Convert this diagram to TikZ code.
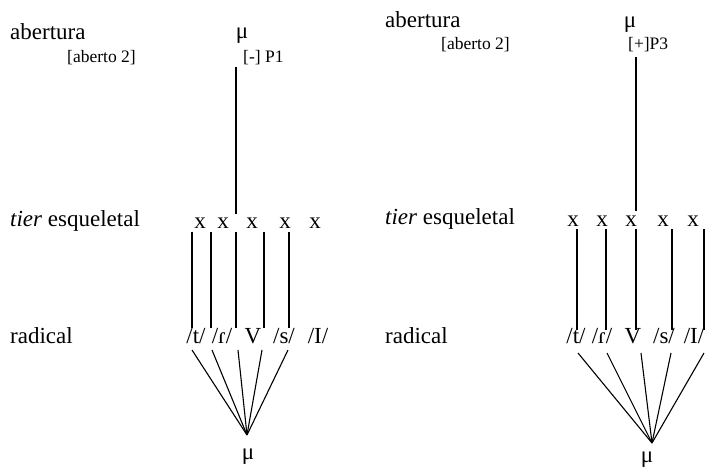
\documentclass[tikz,border=0pt]{standalone}
\usepackage{fontspec}
\setmainfont{Liberation Serif}
\usetikzlibrary{positioning}

\begin{document}
\begin{tikzpicture}[
  x=1pt, y=-1pt,
  lbl/.style={anchor=base west, inner sep=0pt, font=\fontsize{23}{27}\selectfont},
  feat/.style={anchor=base west, inner sep=0pt, font=\fontsize{17.5}{21}\selectfont},
  seg/.style={anchor=base, inner sep=0pt, font=\fontsize{23}{27}\selectfont},
  ln/.style={line width=1.1pt}
]
  \useasboundingbox (0,0) rectangle (705,470);

  % left: P1
  \node[lbl] (abA) at (10,40) {abertura};
  \node[feat] (aoA) at (67,63) {[aberto 2]};
  \node[seg] (muTopA) at (242,39) {μ};
  \node[feat] (pA) at (243,63) {[-] P1};
  \node[lbl] (tierA) at (10,227) {\textit{tier} esqueletal};
  \node[lbl] (radA) at (10,344) {radical};
  \foreach \n/\x in {1/200,2/223,3/252,4/285,5/315}
    \node[seg] (xA\n) at (\x,229) {x};
  \foreach \n/\x/\s in {1/196/{/t/},2/222/{/ɾ/},3/253/{V},4/284/{/s/},5/318/{/I/}}
    \node[seg] (sA\n) at (\x,344) {\s};
  \coordinate (topA) at (236,67);
  \coordinate (botA) at (236,214);
  \draw[ln] (topA) -- (botA);
  \foreach \n/\x in {1/192,2/211,3/236,4/264,5/289} {
    \coordinate (vaA\n) at (\x,232);
    \coordinate (vbA\n) at (\x,328);
    \draw[ln] (vaA\n) -- (vbA\n);
  }
  \coordinate (rootA) at (247,435);
  \foreach \n/\x in {1/192,2/212,3/238,4/262,5/288} {
    \coordinate (fA\n) at (\x,350);
    \draw[ln] (fA\n) -- (rootA);
  }
  \node[seg] (muBotA) at (248,460) {μ};

  % right: P3
  \node[lbl] (abB) at (385,28) {abertura};
  \node[feat] (aoB) at (441,50) {[aberto 2]};
  \node[seg] (muTopB) at (630,28) {μ};
  \node[feat] (pB) at (628,50) {[+]P3};
  \node[lbl] (tierB) at (385,225) {\textit{tier} esqueletal};
  \node[lbl] (radB) at (385,344) {radical};
  \foreach \n/\x in {1/573,2/602,3/631,4/663,5/693}
    \node[seg] (xB\n) at (\x,227) {x};
  \foreach \n/\x/\s in {1/576/{/t/},2/602/{/ɾ/},3/633/{V},4/664/{/s/},5/694/{/I/}}
    \node[seg] (sB\n) at (\x,344) {\s};
  \coordinate (topB) at (636,57);
  \coordinate (botB) at (636,211);
  \draw[ln] (topB) -- (botB);
  \foreach \n/\x in {1/577,2/606,3/636,4/672,5/704} {
    \coordinate (vaB\n) at (\x,229);
    \coordinate (vbB\n) at (\x,330);
    \draw[ln] (vaB\n) -- (vbB\n);
  }
  \coordinate (rootB) at (652,443);
  \foreach \n/\x in {1/578,2/607,3/641,4/671,5/704} {
    \coordinate (fB\n) at (\x,353);
    \draw[ln] (fB\n) -- (rootB);
  }
  \node[seg] (muBotB) at (647,463) {μ};
\end{tikzpicture}
\end{document}
